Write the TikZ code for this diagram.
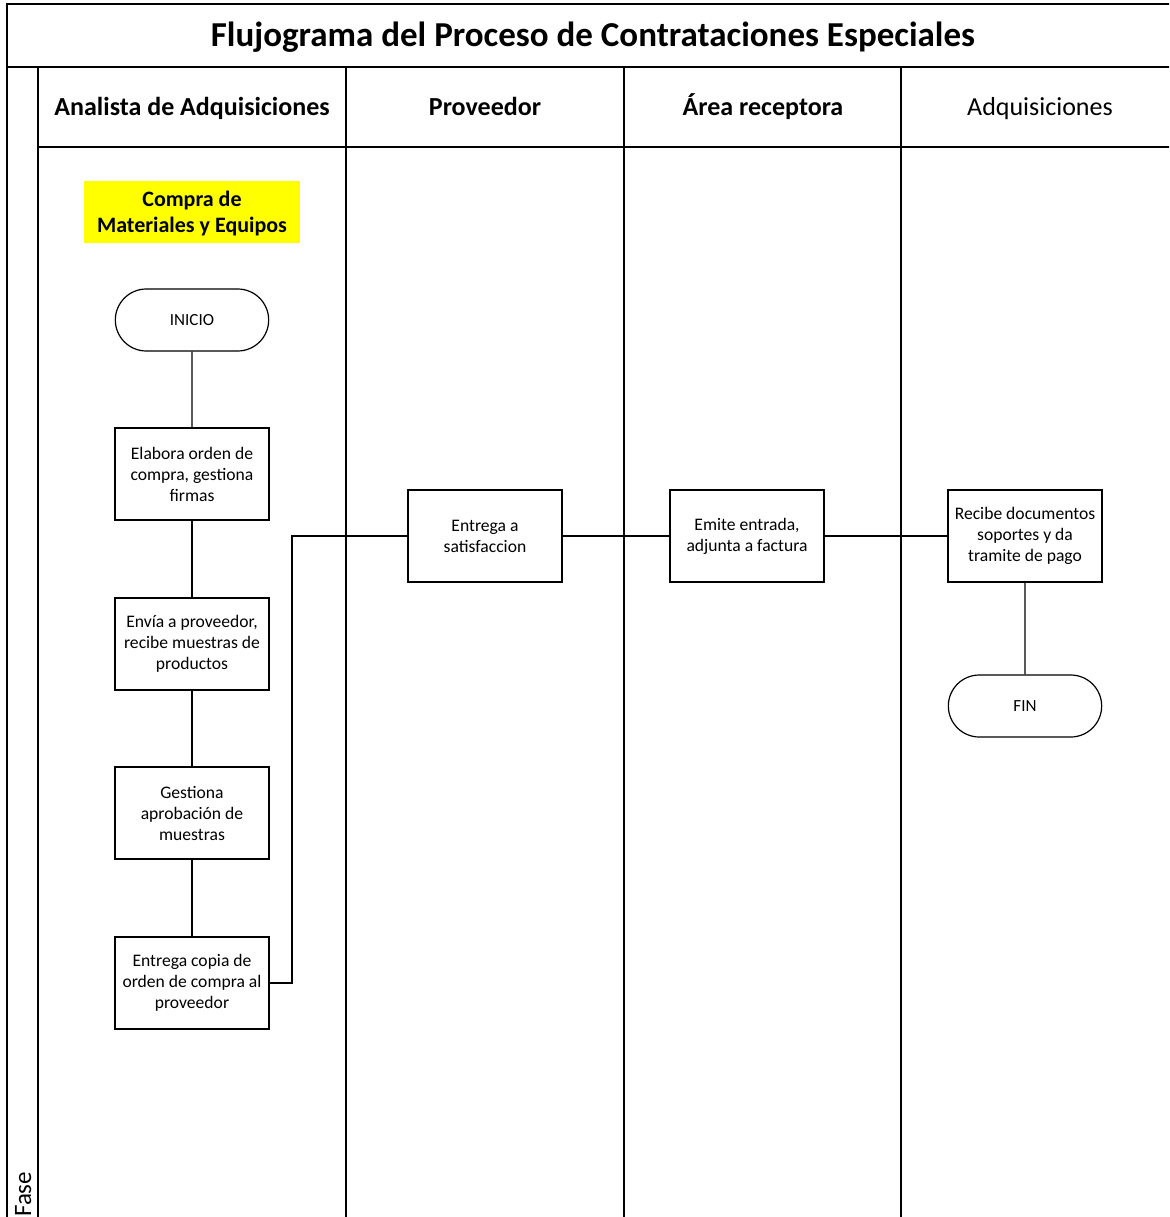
\documentclass[tikz,border=0pt]{standalone}
\usepackage{fontspec}
\setmainfont{Carlito}
\usetikzlibrary{shapes.misc}
\definecolor{hiyellow}{RGB}{255,255,0}
\tikzset{
  frame/.style={line width=1.6pt},
  lane/.style={line width=1.4pt},
  proc/.style={draw, line width=1.2pt, minimum width=154pt, minimum height=92pt,
    align=center, font=\fontsize{17.6}{21}\selectfont, inner sep=2pt},
  term/.style={draw, line width=1.2pt, rounded rectangle, minimum width=160pt,
    minimum height=62pt, font=\fontsize{17}{21}\selectfont},
  hdr/.style={anchor=base, font=\fontsize{26}{30}\selectfont\bfseries},
  link/.style={line width=1.2pt}
}
\begin{document}
\begin{tikzpicture}[x=1pt,y=-1pt]
\useasboundingbox (0,0) rectangle (1169,1217);
\fill[white] (0,0) rectangle (1169,1217);
\begin{scope}
\clip (0,0) rectangle (1169,1217);
% outer frame and title row
\draw[frame] (1180,4) -- (7,4) -- (7,1230);
\draw[frame] (7,67) -- (1180,67);
% phase column and header row
\draw[lane] (38,67) -- (38,1230);
\draw[lane] (38,147) -- (1180,147);
% lane separators
\draw[lane] (346,67) -- (346,1230);
\draw[lane] (624,67) -- (624,1230);
\draw[lane] (901,67) -- (901,1230);
\end{scope}

% title and lane headers
\node[anchor=base, font=\fontsize{35}{40}\selectfont\bfseries] (title) at (593,47) {Flujograma del Proceso de Contrataciones Especiales};
\node[hdr] (h1) at (192,116) {Analista de Adquisiciones};
\node[hdr] (h2) at (485,116) {Proveedor};
\node[hdr] (h3) at (763,116) {Área receptora};
\node[hdr, font=\fontsize{26}{30}\selectfont] (h4) at (1040,116) {Adquisiciones};
\node[rotate=90, anchor=base west, inner sep=0pt, font=\fontsize{25}{29}\selectfont] (fase) at (31,1217) {Fase};

% process label on a yellow band
\node[fill=hiyellow, minimum width=216pt, minimum height=62pt] (tag) at (192,212) {};
\node[align=center, font=\fontsize{22}{26}\selectfont\bfseries] (tagtext) at (192,214) {Compra de\\Materiales y Equipos};

% steps
\node[term] (inicio) at (192,320) {INICIO};
\node[proc] (elabora) at (192,474) {Elabora orden de\\compra, gestiona\\firmas};
\node[proc] (envia) at (192,644) {Envía a proveedor,\\recibe muestras de\\productos};
\node[proc] (gestiona) at (192,813) {Gestiona\\aprobación de\\muestras};
\node[proc] (copia) at (192,983) {Entrega copia de\\orden de compra al\\proveedor};
\node[proc] (satisf) at (485,536) {Entrega a\\satisfaccion};
\node[proc] (emite) at (747,536) {Emite entrada,\\adjunta a factura};
\node[proc] (recibe) at (1025,536) {Recibe documentos\\soportes y da\\tramite de pago};
\node[term] (fin) at (1025,706) {FIN};

% connectors
\coordinate (bend) at (292,983);
\draw[link] (inicio) -- (elabora);
\draw[link] (elabora) -- (envia);
\draw[link] (envia) -- (gestiona);
\draw[link] (gestiona) -- (copia);
\draw[link] (copia.east) -- (bend) |- (satisf.west);
\draw[link] (satisf) -- (emite);
\draw[link] (emite) -- (recibe);
\draw[link] (recibe) -- (fin);
\end{tikzpicture}
\end{document}
